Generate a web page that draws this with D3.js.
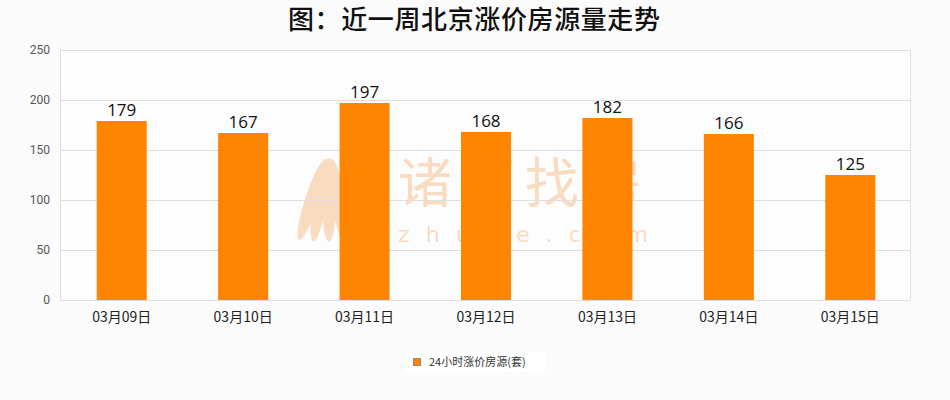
<!DOCTYPE html>
<html><head><meta charset="utf-8">
<script src="https://cdn.jsdelivr.net/npm/d3@7"></script>
<style>
html,body{margin:0;padding:0;background:#fbfbfb;}
svg{display:block;}
</style></head>
<body>
<svg id="c" width="950" height="400"></svg>
<script>
const categories = ["03月09日","03月10日","03月11日","03月12日","03月13日","03月14日","03月15日"];
const values = [179,167,197,168,182,166,125];
const yTicks = [0,50,100,150,200,250];
const seriesName = "24小时涨价房源(套)";
const title = "图：近一周北京涨价房源量走势";

const svg = d3.select("#c");
const W = 950, H = 400;
const m = {l:60, r:40, t:50, b:100};
const x = d3.scaleBand().domain(categories).range([m.l+1, W-m.r+1]).paddingInner(0.588).paddingOuter(0.294);
const y = d3.scaleLinear().domain([0,250]).range([H-m.b, m.t]);

svg.append("rect").attr("width",W).attr("height",H).attr("fill","#fbfbfb");

// title
svg.append("text").attr("x",474).attr("y",29).attr("text-anchor","middle")
  .attr("font-family","'Noto Sans CJK SC'").attr("font-weight","500").attr("font-size",26)
  .attr("textLength",372).attr("fill","#111").text(title);

// plot background
svg.append("rect").attr("x",m.l).attr("y",m.t).attr("width",W-m.l-m.r).attr("height",H-m.t-m.b).attr("fill","#fdfdfd");

// watermark
const wc = "#f9dcc0";
const wm = svg.append("g");
wm.append("text").attr("x",398).attr("y",203).attr("font-family","'Noto Sans CJK SC'").attr("font-size",54)
  .attr("textLength",244).attr("fill",wc).text("诸葛找房");
wm.append("text").attr("x",398).attr("y",242).attr("font-family","'DejaVu Sans'").attr("font-size",22)
  .attr("textLength",250).attr("fill",wc).text("zhuge.com");
[[-14,6],[-6,3],[3,0],[12,-3]].forEach(([dx,rot])=>{
  wm.append("ellipse").attr("cx",326+dx).attr("cy",200).attr("rx",7).attr("ry",42)
    .attr("transform",`rotate(${rot*3},${326+dx},200)`).attr("fill",wc);
});

// grid
svg.append("g").selectAll("line").data(yTicks).join("line")
  .attr("x1",m.l).attr("x2",W-m.r).attr("y1",d=>y(d)+0.5).attr("y2",d=>y(d)+0.5)
  .attr("stroke","#dedede").attr("stroke-width",1);
svg.append("line").attr("x1",m.l+0.5).attr("x2",m.l+0.5).attr("y1",m.t).attr("y2",H-m.b).attr("stroke","#dedede");
svg.append("line").attr("x1",W-m.r+0.5).attr("x2",W-m.r+0.5).attr("y1",m.t).attr("y2",H-m.b).attr("stroke","#dedede");

// y axis
const ya = svg.append("g").attr("transform",`translate(${m.l},0)`)
  .call(d3.axisLeft(y).tickValues(yTicks).tickSize(0).tickPadding(10));
ya.select(".domain").remove();
ya.selectAll("text").attr("font-family","Roboto").attr("font-size",12).attr("fill","#555");

// x axis
const xa = svg.append("g").attr("transform",`translate(0,${H-m.b})`)
  .call(d3.axisBottom(x).tickSize(0).tickPadding(12));
xa.select(".domain").remove();
xa.selectAll("text").attr("font-family","'Noto Sans CJK SC'").attr("font-size",14).attr("fill","#222");

// bars
svg.append("g").selectAll("rect").data(values).join("rect")
  .attr("x",(d,i)=>x(categories[i])).attr("width",x.bandwidth())
  .attr("y",d=>y(d)).attr("height",d=>y(0)-y(d)).attr("fill","#ff8400");

// value labels
svg.append("g").selectAll("text").data(values).join("text")
  .attr("x",(d,i)=>x(categories[i])+x.bandwidth()/2).attr("y",d=>y(d)-5)
  .attr("text-anchor","middle").attr("font-family","'Open Sans'").attr("font-size",17).attr("fill","#111")
  .text(d=>d);

// legend
const lg = svg.append("g");
lg.append("rect").attr("x",405).attr("y",352).attr("width",140).attr("height",20).attr("fill","#ffffff");
lg.append("rect").attr("x",413.5).attr("y",358.5).attr("width",7).attr("height",7).attr("fill","#ff8400").attr("stroke","#888");
lg.append("text").attr("x",429).attr("y",366).attr("font-family","'Noto Sans CJK SC'").attr("font-size",11)
  .attr("fill","#333").text(seriesName);
</script>
</body></html>
